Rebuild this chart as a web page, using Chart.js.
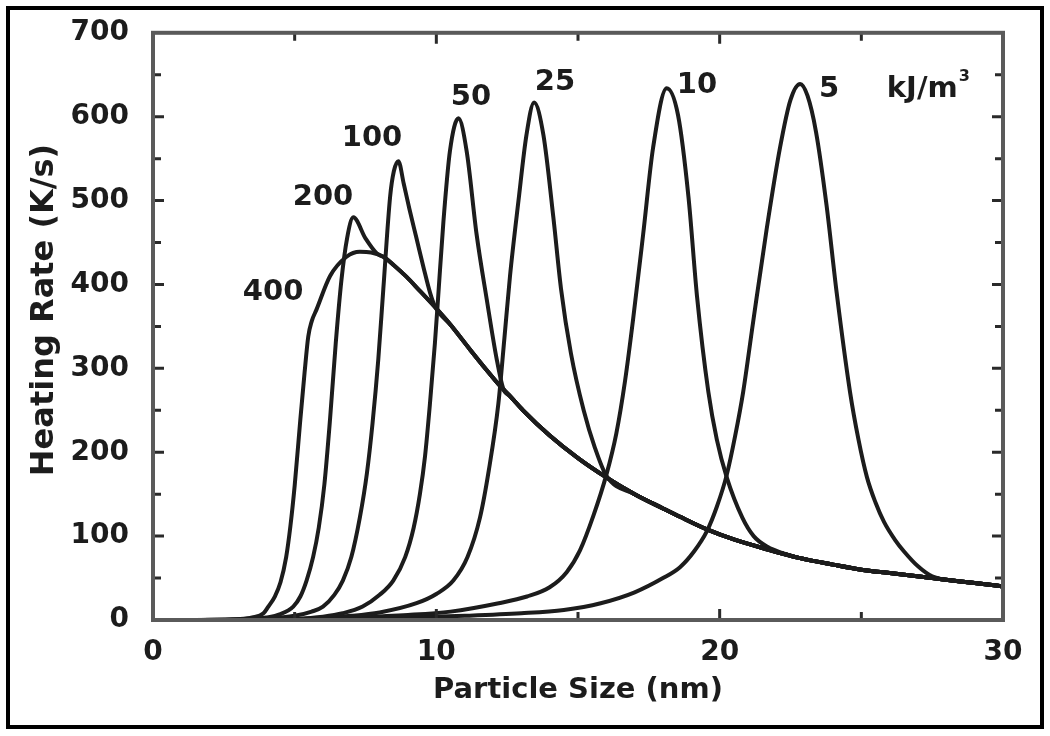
<!DOCTYPE html>
<html lang="en">
<head>
    <meta charset="UTF-8">
    <title>Heating Rate vs Particle Size</title>
    <style>
        html, body {
            margin: 0;
            padding: 0;
            background-color: #fff;
        }
        #wrap {
            width: 1050px;
            height: 736px;
        }
    </style>
    <script src="https://cdn.jsdelivr.net/npm/chart.js"></script>
</head>
<body>
    <div id="wrap"><canvas id="chart" width="1050" height="736"></canvas></div>
    <script>
        // fluence of each curve (kJ/m^2)
        const fluences = ['400', '200', '100', '50', '25', '10', '5'];
        const unitLabel = 'kJ/m';

        // particle size (nm) / heating rate (K/s)
        const size400 = [1, 2, 3, 3.5, 3.9, 4.07, 4.3, 4.5, 4.7, 4.85, 5.0, 5.19, 5.35, 5.48, 5.6, 5.77, 6.25, 6.83, 7.3, 7.7, 8.13, 8.5, 8.95, 9.4, 9.9, 10.5, 11.2, 11.75, 12.25, 12.6, 13.06, 14.0, 15.0, 16.0, 17.0, 18.0, 18.6, 19.55, 20.5, 21.7, 22.8, 24.0, 25.0, 26.0, 27.5, 28.5, 29.3, 30.0];
        const rate400 = [0, 0, 1, 3, 8, 16, 28, 45, 75, 112, 160, 235, 295, 338, 356, 370, 410, 433, 439, 438, 433, 423, 409, 393, 375, 352, 322, 299, 279, 267, 250, 220, 193, 170, 150, 133, 123, 108, 96, 84, 74, 66, 60, 56, 50, 46, 43, 40];

        const size200 = [1, 3, 4, 4.5, 4.95, 5.2, 5.42, 5.65, 5.85, 6.05, 6.25, 6.45, 6.65, 6.85, 7.07, 7.5, 7.9];
        const rate200 = [0, 0.5, 3, 7, 16, 28, 47, 75, 110, 162, 240, 330, 405, 455, 480, 455, 437];

        const size100 = [1, 3, 4, 5, 5.6, 6.0, 6.4, 6.7, 7.0, 7.3, 7.55, 7.75, 7.95, 8.13, 8.37, 8.5, 8.66, 8.85, 9.05, 9.3, 9.55, 9.78, 9.95];
        const rate100 = [0, 0.3, 1.5, 5, 10, 16, 30, 47, 75, 122, 175, 235, 310, 395, 505, 535, 547, 520, 490, 455, 420, 390, 374];

        const size50 = [1, 3, 5, 6, 6.7, 7.4, 8.0, 8.48, 8.9, 9.2, 9.42, 9.6, 9.78, 9.95, 10.07, 10.25, 10.48, 10.78, 11.07, 11.42, 11.78, 12.13, 12.36];
        const rate50 = [0, 0.2, 1.5, 4, 8, 16, 30, 47, 75, 110, 150, 195, 260, 330, 388, 475, 559, 598, 559, 460, 382, 311, 276];

        const size25 = [1, 3, 5, 7, 8, 9.3, 10.0, 10.6, 11.1, 11.54, 11.85, 12.19, 12.4, 12.6, 12.9, 13.18, 13.45, 13.78, 14.13, 14.4, 14.75, 15.2, 15.6, 16.0];
        const rate25 = [0, 0.1, 1, 5, 9, 20, 31, 47, 75, 122, 178, 258, 335, 410, 500, 578, 617, 578, 480, 395, 318, 250, 205, 172];

        const size10 = [1, 3, 5, 7, 9, 10.5, 12.2, 13.2, 14.0, 14.6, 15.07, 15.55, 16.0, 16.35, 16.66, 16.95, 17.3, 17.65, 18.13, 18.53, 18.9, 19.2, 19.6, 19.9, 20.25, 20.8, 21.2, 21.7, 22.2];
        const rate10 = [0, 0.2, 1, 3, 6, 10, 20, 28, 39, 57, 83, 125, 173, 222, 285, 360, 460, 563, 634, 602, 504, 386, 272, 215, 170, 122, 100, 87, 80];

        const size5 = [1, 3, 5, 7, 9, 11, 13, 14.5, 15.8, 17.0, 18.0, 18.6, 19.1, 19.55, 19.9, 20.25, 20.55, 20.83, 21.18, 21.65, 22.13, 22.5, 22.84, 23.1, 23.4, 23.77, 24.13, 24.6, 24.9, 25.2, 25.5, 25.8, 26.2, 26.5, 27.0, 27.5];
        const rate5 = [0, 0.2, 0.7, 1.5, 3, 5, 8, 12, 20, 33, 50, 63, 82, 106, 135, 173, 220, 272, 355, 464, 563, 620, 639, 625, 582, 495, 390, 272, 215, 170, 140, 117, 95, 82, 64, 52];

        // where each fluence label sits (data units)
        const labelSpots = [[4.24, 390], [6.0, 504], [7.73, 574], [11.22, 623], [14.19, 641], [19.2, 637], [23.86, 632]];
        const unitSpot = [25.9, 632];

        const ink = '#1c1c1c';
        const fontFamily = "'DejaVu Sans', sans-serif";

        // past its peak every curve runs into the 400 curve; carry that tail on
        function curve(xs, ys) {
            const pts = xs.map((x, i) => ({ x: x, y: ys[i] }));
            const last = xs[xs.length - 1];
            size400.forEach((x, i) => {
                if (xs !== size400 && x > last + 0.15) pts.push({ x: x, y: rate400[i] });
            });
            return pts;
        }

        const series = [
            curve(size400, rate400),
            curve(size200, rate200),
            curve(size100, rate100),
            curve(size50, rate50),
            curve(size25, rate25),
            curve(size10, rate10),
            curve(size5, rate5)
        ];

        // frame, inward ticks, y title, curve labels and outer border
        const decor = {
            id: 'decor',
            afterDatasetsDraw(chart) {
                const { ctx, chartArea: a, scales: { x, y } } = chart;
                ctx.save();

                ctx.strokeStyle = '#2a2a2a';
                ctx.lineWidth = 3;
                ctx.beginPath();
                for (let v = 5; v < 30; v += 5) {
                    const px = x.getPixelForValue(v);
                    const len = v % 10 === 0 ? 11 : 8;
                    ctx.moveTo(px, a.bottom); ctx.lineTo(px, a.bottom - len);
                    ctx.moveTo(px, a.top); ctx.lineTo(px, a.top + len);
                }
                for (let v = 50; v < 700; v += 50) {
                    const py = y.getPixelForValue(v);
                    const len = v % 100 === 0 ? 11 : 8;
                    ctx.moveTo(a.left, py); ctx.lineTo(a.left + len, py);
                    ctx.moveTo(a.right, py); ctx.lineTo(a.right - len, py);
                }
                ctx.stroke();

                ctx.strokeStyle = '#5a5a5a';
                ctx.lineWidth = 4;
                ctx.strokeRect(a.left, a.top, a.width, a.height);

                ctx.fillStyle = ink;
                ctx.textAlign = 'center';
                ctx.textBaseline = 'middle';

                // y title, sitting a little above the middle of the axis
                ctx.save();
                ctx.translate(45, 310);
                ctx.rotate(-Math.PI / 2);
                ctx.font = 'bold 32px ' + fontFamily;
                ctx.fillText('Heating Rate (K/s)', 0, 0);
                ctx.restore();

                ctx.font = 'bold 29px ' + fontFamily;
                fluences.forEach((t, i) => {
                    const [sx, sy] = labelSpots[i];
                    ctx.fillText(t, x.getPixelForValue(sx), y.getPixelForValue(sy));
                });

                ctx.textAlign = 'left';
                const ux = x.getPixelForValue(unitSpot[0]);
                const uy = y.getPixelForValue(unitSpot[1]);
                ctx.fillText(unitLabel, ux, uy);
                const w = ctx.measureText(unitLabel).width;
                ctx.font = 'bold 16px ' + fontFamily;
                ctx.fillText('3', ux + w + 1, uy - 13);

                ctx.strokeStyle = '#000';
                ctx.lineWidth = 4;
                ctx.strokeRect(8, 8, 1034, 719);
                ctx.restore();
            }
        };

        new Chart(document.getElementById('chart'), {
            type: 'line',
            data: {
                datasets: series.map((pts, i) => ({
                    label: fluences[i],
                    data: pts,
                    borderColor: ink,
                    borderWidth: 4,
                    pointRadius: 0,
                    fill: false,
                    cubicInterpolationMode: 'monotone'
                }))
            },
            plugins: [decor],
            options: {
                responsive: false,
                animation: false,
                devicePixelRatio: 1,
                layout: { padding: { top: 27, right: 47, left: 0, bottom: 0 } },
                plugins: {
                    legend: { display: false },
                    tooltip: { enabled: false }
                },
                scales: {
                    x: {
                        type: 'linear',
                        min: 0,
                        max: 30,
                        grid: { display: false },
                        border: { display: false },
                        ticks: {
                            stepSize: 10,
                            padding: 8,
                            color: ink,
                            font: { family: fontFamily, size: 28, weight: 'bold' }
                        },
                        title: {
                            display: true,
                            text: 'Particle Size (nm)',
                            color: ink,
                            font: { family: fontFamily, size: 29, weight: 'bold' },
                            padding: { top: 0, bottom: 28 }
                        },
                        afterFit: s => { s.height = 116; }
                    },
                    y: {
                        type: 'linear',
                        min: 0,
                        max: 700,
                        grid: { display: false },
                        border: { display: false },
                        ticks: {
                            stepSize: 100,
                            padding: 16,
                            color: ink,
                            font: { family: fontFamily, size: 28, weight: 'bold' }
                        },
                        afterFit: s => { s.width = 153; }
                    }
                }
            }
        });
    </script>
</body>
</html>
